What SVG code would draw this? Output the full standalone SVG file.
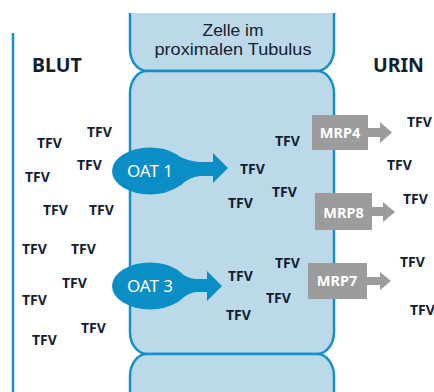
<svg xmlns="http://www.w3.org/2000/svg" width="434" height="392" viewBox="0 0 434 392">
<defs>
<style>
.cell{fill:#bcd9ea;stroke:none}
.wall{fill:none;stroke:#1591c9;stroke-width:2.5}
.oat{fill:#0b8ec5}
.mrp{fill:#9c9c9c}
.lbl{font-family:"Noto Sans","Open Sans",sans-serif;fill:#ffffff;text-anchor:middle}
.mlbl{font-family:"Noto Sans","Open Sans",sans-serif;font-weight:bold;font-size:14.5px;fill:#ffffff;text-anchor:middle}
.tfv{font-family:"Noto Sans","Open Sans",sans-serif;font-weight:bold;font-size:14px;fill:#0f2130}
.side{font-family:"Noto Sans","Open Sans",sans-serif;font-weight:bold;font-size:19.5px;fill:#0f2130}
.title{font-family:"Liberation Sans",Arial,sans-serif;font-size:17px;fill:#16222c;text-anchor:middle}
</style>
</defs>
<rect width="434" height="392" fill="#ffffff"/>

<g id="blood-vessel">
<line x1="13" y1="33" x2="13" y2="392" class="wall"/>
<text class="side" x="32" y="72">BLUT</text>
</g>
<g id="urine">
<text class="side" x="373" y="72">URIN</text>
</g>

<g id="cell-top">
<path class="cell" d="M130,13 L334,13 L334,49 A17,22 0 0 1 317,71 L147,71 A17,22 0 0 1 130,49 Z"/>
<path class="wall" d="M130,13 L130,49 A17,22 0 0 0 147,71 L317,71 A17,22 0 0 0 334,49 L334,13"/>
<text class="title" x="233" y="36" textLength="61" lengthAdjust="spacingAndGlyphs">Zelle im</text>
<text class="title" x="233" y="55" textLength="157" lengthAdjust="spacingAndGlyphs">proximalen Tubulus</text>
</g>

<g id="cell-main">
<path class="cell" d="M147,71 L317,71 A17,22 0 0 1 334,93 L334,332 A17,22 0 0 1 317,354 L147,354 A17,22 0 0 1 130,332 L130,93 A17,22 0 0 1 147,71 Z"/>
<path class="wall" d="M147,71 L317,71 A17,22 0 0 1 334,93 L334,332 A17,22 0 0 1 317,354 L147,354 A17,22 0 0 1 130,332 L130,93 A17,22 0 0 1 147,71 Z"/>
</g>

<g id="cell-bottom">
<path class="cell" d="M147,354 L317,354 A17,22 0 0 1 334,376 L334,400 L130,400 L130,376 A17,22 0 0 1 147,354 Z"/>
<path class="wall" d="M130,400 L130,376 A17,22 0 0 1 147,354 L317,354 A17,22 0 0 1 334,376 L334,400"/>
</g>

<g id="oat1">
<ellipse class="oat" cx="150" cy="171" rx="38" ry="23.5"/>
<path class="oat" d="M176,155 Q190,162 200,162 L213,162 L213,153 L228,168 L213,183 L213,176 L200,176 Q189,177 180,186 Z"/>
<text class="lbl" x="150" y="177" font-size="17">OAT 1</text>
</g>

<g id="oat3">
<ellipse class="oat" cx="150" cy="286" rx="38" ry="23.5"/>
<path class="oat" d="M176,270 Q188,279 196,279 L207,279 L207,271 L222,286 L207,301 L207,292 L196,292 Q187,293 178,302 Z"/>
<text class="lbl" x="150" y="292" font-size="17">OAT 3</text>
</g>

<g id="mrp4">
<path class="mrp" d="M312,115 L368,115 L368,128 L380,128 L380,122 L392,132.5 L380,143 L380,137 L368,137 L368,150 L312,150 Z"/>
<text class="mlbl" x="340" y="138">MRP4</text>
</g>

<g id="mrp8">
<path class="mrp" d="M315,193 L372,193 L372,207 L383,207 L383,202 L395,212 L383,222 L383,216 L372,216 L372,230 L315,230 Z"/>
<text class="mlbl" x="343.5" y="218">MRP8</text>
</g>

<g id="mrp7">
<path class="mrp" d="M308,263 L367,263 L367,277 L380,277 L380,272 L391,281 L380,290 L380,285 L367,285 L367,299 L308,299 Z"/>
<text class="mlbl" x="337" y="286">MRP7</text>
</g>

<g id="tfv-blood">
<text class="tfv" x="37" y="148">TFV</text>
<text class="tfv" x="87" y="137">TFV</text>
<text class="tfv" x="77" y="170">TFV</text>
<text class="tfv" x="25" y="182">TFV</text>
<text class="tfv" x="43" y="215">TFV</text>
<text class="tfv" x="89" y="215">TFV</text>
<text class="tfv" x="22" y="254">TFV</text>
<text class="tfv" x="71" y="254">TFV</text>
<text class="tfv" x="62" y="288">TFV</text>
<text class="tfv" x="22" y="305">TFV</text>
<text class="tfv" x="81" y="333">TFV</text>
<text class="tfv" x="32" y="345">TFV</text>
</g>

<g id="tfv-cell">
<text class="tfv" x="275" y="146">TFV</text>
<text class="tfv" x="240" y="174">TFV</text>
<text class="tfv" x="272" y="197">TFV</text>
<text class="tfv" x="228" y="208">TFV</text>
<text class="tfv" x="275" y="268">TFV</text>
<text class="tfv" x="228" y="281">TFV</text>
<text class="tfv" x="266" y="303">TFV</text>
<text class="tfv" x="226" y="320">TFV</text>
</g>

<g id="tfv-urine">
<text class="tfv" x="407" y="127">TFV</text>
<text class="tfv" x="387" y="170">TFV</text>
<text class="tfv" x="403" y="204">TFV</text>
<text class="tfv" x="400" y="267">TFV</text>
<text class="tfv" x="410" y="315">TFV</text>
</g>
</svg>
